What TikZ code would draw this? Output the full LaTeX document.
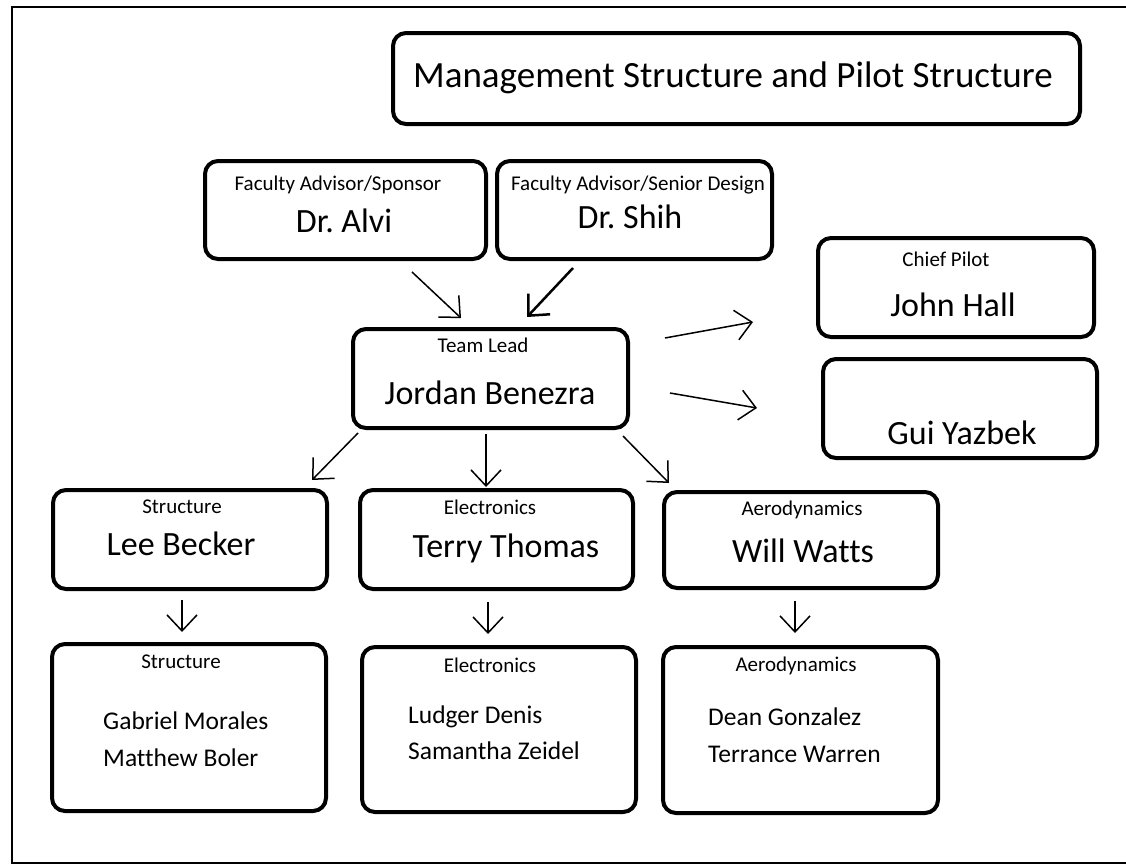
\documentclass[tikz,border=0pt]{standalone}
\usepackage{fontspec}
\setmainfont{Carlito}[Ligatures=NoCommon]
\usetikzlibrary{arrows.meta}
\frenchspacing
\begin{document}
\begin{tikzpicture}[x=1pt,y=-1pt,
  box/.style={draw, line width=4pt, rounded corners=13pt, inner sep=0pt},
  titletext/.style={font=\fontsize{37}{44}\selectfont, inner sep=0pt, anchor=base},
  lbl/.style={font=\fontsize{21}{25}\selectfont, inner sep=0pt, anchor=base},
  person/.style={font=\fontsize{34}{40}\selectfont, inner sep=0pt, anchor=base},
  member/.style={font=\fontsize{25.5}{30}\selectfont, inner sep=0pt, anchor=base west},
  arr/.style={-{Straight Barb[length=16pt,width=30pt]}, line width=1.5pt},
  arrthick/.style={arr, line width=2.5pt},
]
\useasboundingbox (0,0) rectangle (1126,865);
\draw[line width=2.5pt] (1126,7) -- (12,7) -- (12,863) -- (1126,863);

% boxes
\node[box, minimum width=687pt, minimum height=91pt] (title) at (736.5,78.5) {};
\node[box, minimum width=281pt, minimum height=98pt] (alvi) at (345.5,210) {};
\node[box, minimum width=275pt, minimum height=98pt] (shih) at (634.5,210) {};
\node[box, minimum width=275pt, minimum height=99pt] (team) at (490.5,378.5) {};
\node[box, minimum width=276pt, minimum height=99pt] (pilot) at (956,287.5) {};
\node[box, minimum width=274pt, minimum height=99pt] (gui) at (960,408.5) {};
\node[box, minimum width=274pt, minimum height=99pt] (struct) at (190,539.5) {};
\node[box, minimum width=273pt, minimum height=99pt] (elec) at (496.5,539.5) {};
\node[box, minimum width=274pt, minimum height=96pt] (aero) at (801,540) {};
\node[box, minimum width=274pt, minimum height=167pt] (structL) at (189,727.5) {};
\node[box, minimum width=274pt, minimum height=165pt] (elecL) at (499,729.5) {};
\node[box, minimum width=275pt, minimum height=166pt] (aeroL) at (800.5,730) {};

% texts
\node[titletext] (titleT) at (733,87) {Management Structure and Pilot Structure};
\node[lbl] (alviL) at (338,190) {Faculty Advisor/Sponsor};
\node[person] (alviN) at (344,232) {Dr. Alvi};
\node[lbl] (shihL) at (638,190) {Faculty Advisor/Senior Design};
\node[person] (shihN) at (630,228) {Dr. Shih};
\node[lbl] (teamL) at (483,352) {Team Lead};
\node[person] (teamN) at (490,404) {Jordan Benezra};
\node[lbl] (pilotL) at (946,266) {Chief Pilot};
\node[person] (pilotN) at (953,316) {John Hall};
\node[person] (guiN) at (962,444) {Gui Yazbek};
\node[lbl] (structT) at (182,513) {Structure};
\node[person] (structN) at (181,555) {Lee Becker};
\node[lbl] (elecT) at (490,514) {Electronics};
\node[person] (elecN) at (506,557) {Terry Thomas};
\node[lbl] (aeroT) at (802,515) {Aerodynamics};
\node[person] (aeroN) at (803,562) {Will Watts};
\node[lbl] (structLT) at (181,668) {Structure};
\node[member] (structM1) at (103,729) {Gabriel Morales};
\node[member] (structM2) at (103,766) {Matthew Boler};
\node[lbl] (elecLT) at (490,672) {Electronics};
\node[member] (elecM1) at (408,723) {Ludger Denis};
\node[member] (elecM2) at (408,759) {Samantha Zeidel};
\node[lbl] (aeroLT) at (796,671) {Aerodynamics};
\node[member] (aeroM1) at (708,725) {Dean Gonzalez};
\node[member] (aeroM2) at (708,762) {Terrance Warren};

% arrow end points
\coordinate (a1s) at (412,272); \coordinate (a1e) at (461,318);
\coordinate (a2s) at (573,268); \coordinate (a2e) at (527,317);
\coordinate (a3s) at (665,338); \coordinate (a3e) at (753,322);
\coordinate (a4s) at (670,393); \coordinate (a4e) at (757,408);
\coordinate (a5s) at (358,433); \coordinate (a5e) at (312,480);
\coordinate (a6s) at (486,434); \coordinate (a6e) at (486,487);
\coordinate (a7s) at (623,436); \coordinate (a7e) at (669,483);
\coordinate (a8s) at (182,600); \coordinate (a8e) at (182,632);
\coordinate (a9s) at (488,602); \coordinate (a9e) at (488,634);
\coordinate (a10s) at (795,601); \coordinate (a10e) at (795,633);

\draw[arr] (a1s) -- (a1e);
\draw[arrthick] (a2s) -- (a2e);
\draw[arr] (a3s) -- (a3e);
\draw[arr] (a4s) -- (a4e);
\draw[arr] (a5s) -- (a5e);
\draw[arr] (a6s) -- (a6e);
\draw[arr] (a7s) -- (a7e);
\draw[arr] (a8s) -- (a8e);
\draw[arr] (a9s) -- (a9e);
\draw[arr] (a10s) -- (a10e);
\end{tikzpicture}
\end{document}
